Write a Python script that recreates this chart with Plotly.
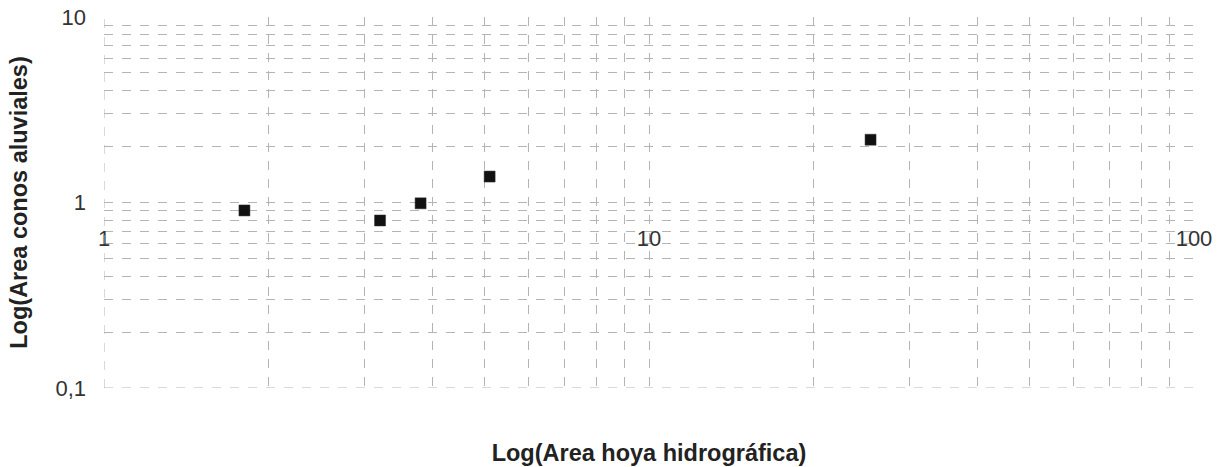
import plotly.graph_objects as go

# Basin area vs. alluvial fan area (log-log)
area_hoya = [1.81, 3.21, 3.81, 5.10, 25.5]
area_conos = [0.906, 0.80, 0.99, 1.38, 2.18]

x_grid = [1, 2, 3, 4, 5, 6, 7, 8, 9, 10, 20, 30, 40, 50, 60, 70, 80, 90, 100]
y_grid = [0.1, 0.2, 0.3, 0.4, 0.5, 0.6, 0.7, 0.8, 0.9,
          1, 2, 3, 4, 5, 6, 7, 8, 9, 10]
y_labels = {0.1: "0,1", 1: "1", 10: "10"}
x_label_vals = [1, 10, 100]
x_label_text = ["1", "10", "100"]

FONT = "Liberation Sans, Arial, sans-serif"
GRID = "#b4b4b4"
TEXT = "#222222"

fig = go.Figure()
fig.add_trace(go.Scatter(
    x=area_hoya, y=area_conos, mode="markers",
    marker=dict(symbol="square", size=11, color="#111111",
                line=dict(color="#333333", width=0.5)),
    showlegend=False,
))

fig.update_layout(
    width=1232, height=467,
    margin=dict(l=104, r=38, t=17, b=79, autoexpand=False),
    plot_bgcolor="white", paper_bgcolor="white",
    font=dict(family=FONT, size=22, color=TEXT),
    xaxis=dict(
        type="log", range=[0, 2], tickvals=x_grid, showticklabels=False,
        ticks="", showgrid=True, gridcolor=GRID, griddash="dash", gridwidth=1,
        zeroline=False, showline=False, automargin=False,
        title=dict(text="<b>Log(Area hoya hidrográfica)</b>",
                   font=dict(size=23.5, color=TEXT), standoff=56),
    ),
    xaxis2=dict(
        type="log", range=[0, 2], overlaying="x", anchor="free", position=0.5,
        side="bottom", tickvals=x_label_vals, ticktext=x_label_text,
        ticks="", showgrid=False, showline=False, zeroline=False,
        automargin=False,
        ticklabelstandoff=20, tickfont=dict(size=22, color="#333333"),
    ),
    yaxis=dict(
        type="log", range=[-1, 1], tickvals=y_grid,
        ticktext=[y_labels.get(v, "") for v in y_grid],
        ticks="", showgrid=True, gridcolor=GRID, griddash="dash", gridwidth=1,
        zeroline=False, showline=False, ticklabelstandoff=17, automargin=False,
        tickfont=dict(size=22, color="#333333"),
        title=dict(text="<b>Log(Area conos aluviales)</b>",
                   font=dict(size=23.5, color=TEXT), standoff=21),
    ),
)

# grid lines along the left (x=1) and bottom (y=0.1) edges of the plot area
fig.add_shape(type="line", xref="x", yref="y domain", x0=1, x1=1, y0=0, y1=1,
              line=dict(color=GRID, width=1, dash="dash"))
fig.add_shape(type="line", xref="x domain", yref="y", x0=0, x1=1, y0=0.1, y1=0.1,
              line=dict(color=GRID, width=1, dash="dash"))

# invisible trace to activate the label axis
fig.add_trace(go.Scatter(x=[1, 100], y=[1, 1], xaxis="x2", mode="markers",
                         marker=dict(opacity=0), hoverinfo="skip",
                         showlegend=False))

fig.write_html("out.html")
